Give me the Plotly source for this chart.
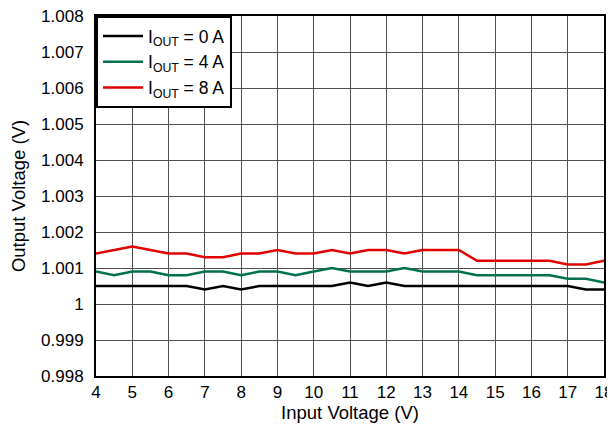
import plotly.graph_objects as go

vin = [4, 4.5, 5, 5.5, 6, 6.5, 7, 7.5, 8, 8.5, 9, 9.5, 10, 10.5, 11, 11.5, 12, 12.5,
       13, 13.5, 14, 14.5, 15, 15.5, 16, 16.5, 17, 17.5, 18]

vout_0a = [1.0005, 1.0005, 1.0005, 1.0005, 1.0005, 1.0005, 1.0004, 1.0005, 1.0004, 1.0005,
           1.0005, 1.0005, 1.0005, 1.0005, 1.0006, 1.0005, 1.0006, 1.0005, 1.0005, 1.0005,
           1.0005, 1.0005, 1.0005, 1.0005, 1.0005, 1.0005, 1.0005, 1.0004, 1.0004]
vout_4a = [1.0009, 1.0008, 1.0009, 1.0009, 1.0008, 1.0008, 1.0009, 1.0009, 1.0008, 1.0009,
           1.0009, 1.0008, 1.0009, 1.0010, 1.0009, 1.0009, 1.0009, 1.0010, 1.0009, 1.0009,
           1.0009, 1.0008, 1.0008, 1.0008, 1.0008, 1.0008, 1.0007, 1.0007, 1.0006]
vout_8a = [1.0014, 1.0015, 1.0016, 1.0015, 1.0014, 1.0014, 1.0013, 1.0013, 1.0014, 1.0014,
           1.0015, 1.0014, 1.0014, 1.0015, 1.0014, 1.0015, 1.0015, 1.0014, 1.0015, 1.0015,
           1.0015, 1.0012, 1.0012, 1.0012, 1.0012, 1.0012, 1.0011, 1.0011, 1.0012]

series_names = ["I<sub>OUT</sub> = 0 A", "I<sub>OUT</sub> = 4 A", "I<sub>OUT</sub> = 8 A"]
series_colors = ["#000000", "#007050", "#e00000"]

x_ticks = list(range(4, 19))
y_tickvals = [0.998, 0.999, 1.000, 1.001, 1.002, 1.003, 1.004, 1.005, 1.006, 1.007, 1.008]
y_ticktext = ["0.998", "0.999", "1", "1.001", "1.002", "1.003", "1.004", "1.005",
              "1.006", "1.007", "1.008"]

fig = go.Figure()
for name, ys, col in zip(series_names, [vout_0a, vout_4a, vout_8a], series_colors):
    fig.add_trace(go.Scatter(x=vin, y=ys, mode="lines", name=name,
                             line=dict(color=col, width=2.5)))

font = dict(family="Arial, Liberation Sans, sans-serif", color="black")

# page body has an 8px margin, so the figure is sized to fill the rest of the window
fig.update_layout(
    width=607, height=419,
    margin=dict(l=88, r=11, t=8, b=51, autoexpand=False),
    paper_bgcolor="white", plot_bgcolor="white",
    font=dict(size=17, **font),
    showlegend=True,
    legend=dict(x=0, y=1, xanchor="left", yanchor="top",
                bgcolor="white", bordercolor="black", borderwidth=2,
                font=dict(size=17.5, **font), tracegroupgap=0,
                itemwidth=40),
)
fig.update_xaxes(
    range=[4, 18], tickvals=x_ticks, ticktext=[str(t) for t in x_ticks],
    showgrid=True, gridcolor="#505050", gridwidth=1,
    showline=True, linecolor="black", linewidth=2, mirror=True,
    ticks="", zeroline=False, automargin=False, ticklabeloverflow="allow",
    title=dict(text="Input Voltage (V)", standoff=0, font=dict(size=18.5, **font)),
    tickfont=dict(size=17, **font),
)
fig.update_yaxes(
    range=[0.998, 1.008], tickvals=y_tickvals, ticktext=y_ticktext,
    showgrid=True, gridcolor="#505050", gridwidth=1,
    showline=True, linecolor="black", linewidth=2, mirror=True,
    ticks="", zeroline=False, automargin=False, ticklabelstandoff=7,
    ticklabeloverflow="allow",
    title=dict(text="Output Voltage (V)", standoff=13, font=dict(size=18.5, **font)),
    tickfont=dict(size=17, **font),
)

fig.write_html("out.html")
